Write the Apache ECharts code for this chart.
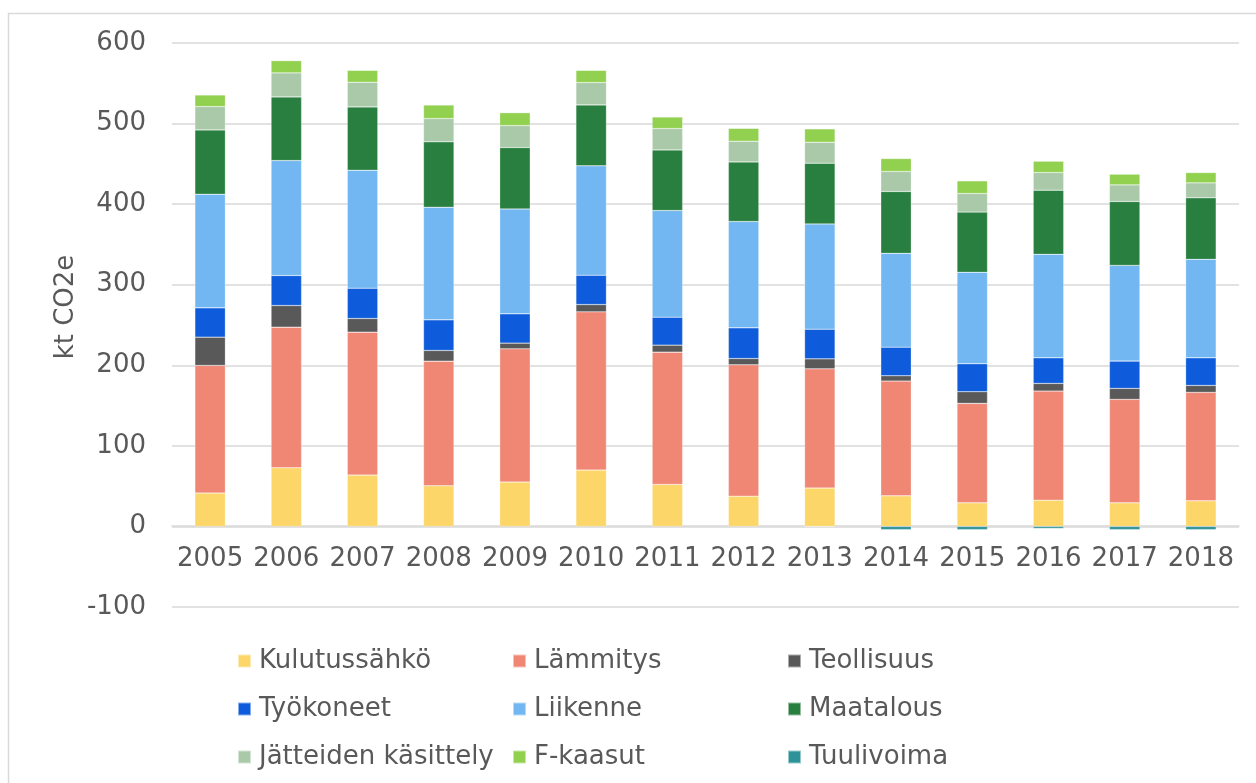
<!DOCTYPE html>
<html>
<head>
<meta charset="utf-8">
<script src="https://cdn.jsdelivr.net/npm/echarts@6/dist/echarts.min.js"></script>
<style>
html,body{margin:0;padding:0;background:#fff;}
#chart{width:1256px;height:783px;}
</style>
</head>
<body>
<div id="chart"></div>
<script>
const years = ['2005','2006','2007','2008','2009','2010','2011','2012','2013','2014','2015','2016','2017','2018'];
const yTicks = { min: -100, max: 600, interval: 100 };

const kulutussahko = [41.4, 72.8, 63.7, 50.5, 55.0, 69.9, 52.1, 37.6, 47.6, 38.0, 29.3, 32.6, 29.3, 31.8];
const lammitys     = [158.4, 174.5, 177.4, 154.6, 165.4, 196.4, 164.2, 163.0, 148.0, 142.4, 123.4, 135.4, 128.4, 134.6];
const teollisuus   = [35.1, 26.9, 17.0, 13.3, 7.1, 9.1, 8.7, 7.8, 12.4, 6.6, 14.5, 9.5, 13.6, 8.6];
const tyokoneet    = [36.4, 37.2, 37.6, 38.0, 36.4, 36.4, 34.7, 38.1, 36.8, 35.5, 34.7, 31.8, 33.9, 34.3];
const liikenne     = [141.0, 142.7, 146.4, 139.8, 130.2, 135.7, 132.4, 131.9, 130.7, 116.4, 113.5, 128.4, 118.8, 122.2];
const maatalous    = [79.8, 79.0, 78.6, 81.1, 76.1, 75.7, 75.2, 74.0, 75.3, 76.8, 74.7, 79.6, 79.3, 76.3];
const jatteet      = [29.0, 29.8, 30.6, 28.9, 27.3, 27.7, 26.5, 25.7, 26.0, 24.8, 23.1, 21.9, 20.6, 18.6];
const fkaasut      = [14.5, 15.3, 14.9, 17.0, 16.1, 15.3, 14.5, 16.1, 16.6, 16.1, 15.7, 14.1, 13.3, 12.8];
const tuulivoima   = [0, 0, 0, 0, 0, 0, 0, 0, -0.5, -4.0, -4.0, -2.5, -4.0, -4.0];

const seriesDefs = [
  ['Kulutussähkö', kulutussahko, '#FCD669'],
  ['Lämmitys', lammitys, '#F08775'],
  ['Teollisuus', teollisuus, '#595959'],
  ['Työkoneet', tyokoneet, '#0E5CDB'],
  ['Liikenne', liikenne, '#72B7F2'],
  ['Maatalous', maatalous, '#287F3F'],
  ['Jätteiden käsittely', jatteet, '#A9C9A8'],
  ['F-kaasut', fkaasut, '#92D050'],
  ['Tuulivoima', tuulivoima, '#2E9399']
];

const FONT = 'DejaVu Sans';
const TXT = '#595959';

const legendPos = [
  [237, 648], [512, 648], [787, 648],
  [237, 696], [512, 696], [787, 696],
  [237, 744], [512, 744], [787, 744]
];

const chart = echarts.init(document.getElementById('chart'), null, { renderer: 'canvas' });
chart.setOption({
  animation: false,
  backgroundColor: '#ffffff',
  grid: { left: 172, right: 17, top: 43, bottom: 176 },
  graphic: [
    { type: 'rect', shape: { x: 8.5, y: 13.5, width: 1400, height: 900 }, style: { fill: 'none', stroke: '#d9d9d9', lineWidth: 1.5 }, silent: true },
    { type: 'text', x: 66, y: 307, rotation: Math.PI / 2, style: { text: 'kt CO2e', fill: TXT, font: '26px "DejaVu Sans"', textAlign: 'center', textVerticalAlign: 'middle' } }
  ],
  legend: seriesDefs.map((d, i) => ({
    data: [d[0]],
    left: legendPos[i][0],
    top: legendPos[i][1],
    padding: 0,
    itemWidth: 13,
    itemHeight: 13,
    icon: 'rect',
    selectedMode: false,
    textStyle: { fontFamily: FONT, fontSize: 26, color: TXT, padding: [0, 0, 0, 3] }
  })),
  xAxis: {
    type: 'category',
    data: years,
    position: 'bottom',
    offset: -81,
    axisLine: { show: true, onZero: false, lineStyle: { color: '#d9d9d9', width: 1.5 } },
    axisTick: { show: false },
    axisLabel: { fontFamily: FONT, fontSize: 26, color: TXT, margin: 20, interval: 0 }
  },
  yAxis: {
    type: 'value',
    min: yTicks.min, max: yTicks.max, interval: yTicks.interval,
    axisLine: { show: false },
    axisTick: { show: false },
    splitLine: { lineStyle: { color: '#d9d9d9', width: 1.5 } },
    axisLabel: { fontFamily: FONT, fontSize: 26, color: TXT, margin: 26 }
  },
  series: seriesDefs.map(d => ({
    name: d[0],
    type: 'bar',
    stack: 'total',
    barWidth: '40%',
    data: d[1],
    itemStyle: { color: d[2], borderColor: 'rgba(255,255,255,0.5)', borderWidth: 0.5 }
  }))
});
</script>
</body>
</html>
